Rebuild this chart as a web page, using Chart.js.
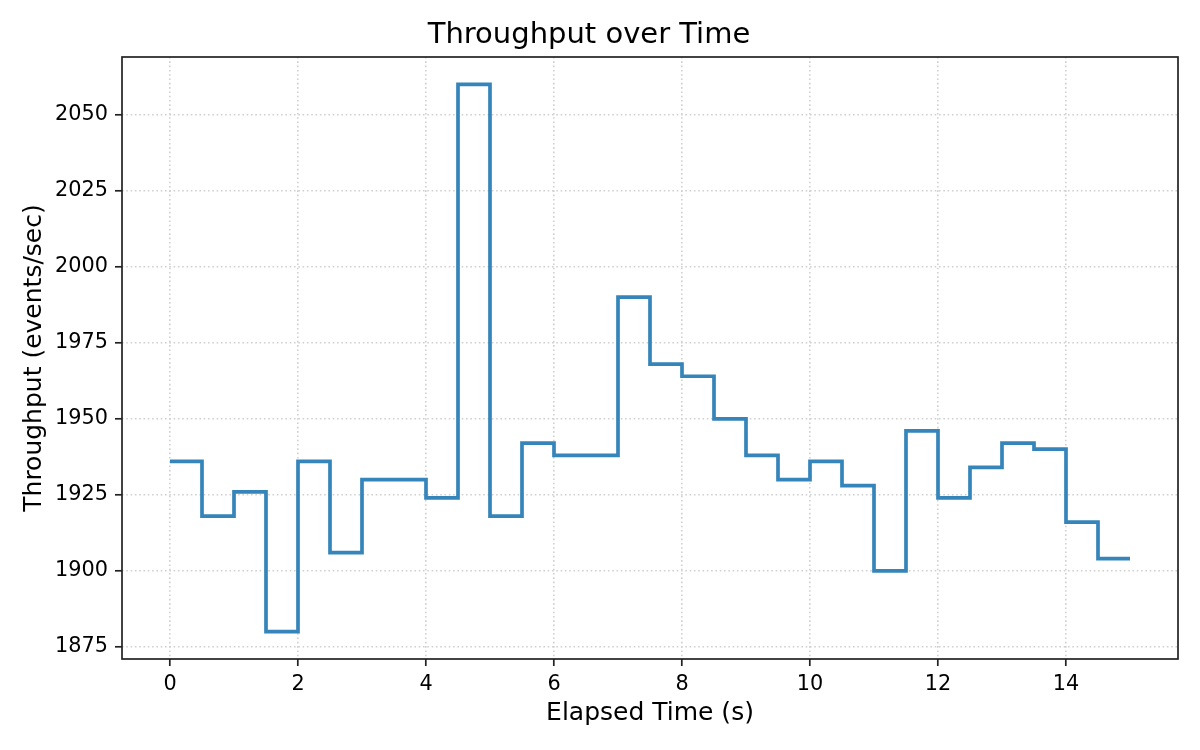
<!DOCTYPE html>
<html>
<head>
<meta charset="utf-8">
<script src="https://cdn.jsdelivr.net/npm/chart.js@4.4.0/dist/chart.umd.min.js"></script>
<style>
  html, body { margin: 0; padding: 0; background: #ffffff; }
  #wrap { width: 1200px; height: 750px; }
</style>
</head>
<body>
<div id="wrap"><canvas id="c" width="1200" height="750"></canvas></div>
<script>
// ---- data ----
const elapsedTime = [0, 0.5, 1, 1.5, 2, 2.5, 3, 3.5, 4, 4.5, 5, 5.5, 6, 6.5, 7, 7.5,
                     8, 8.5, 9, 9.5, 10, 10.5, 11, 11.5, 12, 12.5, 13, 13.5, 14, 14.5, 15];
const throughput = [1936, 1918, 1926, 1880, 1936, 1906, 1930, 1930, 1924, 2060, 1918, 1942,
                    1938, 1938, 1990, 1968, 1964, 1950, 1938, 1930, 1936, 1928, 1900, 1946,
                    1924, 1934, 1942, 1940, 1916, 1904, 1904];
const xTickValues = [0, 2, 4, 6, 8, 10, 12, 14];
const yTickValues = [1875, 1900, 1925, 1950, 1975, 2000, 2025, 2050];

const chartTitle = 'Throughput over Time';
const xLabel = 'Elapsed Time (s)';
const yLabel = 'Throughput (events/sec)';

const points = elapsedTime.map((t, i) => ({ x: t, y: throughput[i] }));

const FONT = "'DejaVu Sans', 'Liberation Sans', sans-serif";
const GRID_COLOR = '#d0d0d0';
const SPINE_COLOR = '#222222';

const framePlugin = {
  id: 'frame',
  afterDatasetsDraw(chart) {
    const { ctx, chartArea: a } = chart;
    ctx.save();
    ctx.strokeStyle = SPINE_COLOR;
    ctx.lineWidth = 1.7;
    ctx.setLineDash([]);
    ctx.strokeRect(a.left, a.top, a.right - a.left, a.bottom - a.top);
    ctx.restore();
  }
};

new Chart(document.getElementById('c'), {
  type: 'line',
  data: {
    datasets: [{
      data: points,
      stepped: true,
      borderColor: '#3585bb',
      borderWidth: 3.7,
      pointRadius: 0,
      fill: false,
      tension: 0,
      borderJoinStyle: 'miter',
      borderCapStyle: 'butt'
    }]
  },
  options: {
    responsive: false,
    devicePixelRatio: 1,
    animation: false,
    layout: { padding: { top: 0, right: 22, bottom: 0, left: 0 } },
    plugins: {
      legend: { display: false },
      tooltip: { enabled: false },
      title: {
        display: true,
        text: chartTitle,
        color: '#000000',
        font: { family: FONT, size: 29, weight: 'normal', lineHeight: 1.2 },
        padding: { top: 18.5, bottom: 3.7 }
      }
    },
    scales: {
      x: {
        type: 'linear',
        min: -0.75,
        max: 15.75,
        afterBuildTicks(scale) { scale.ticks = xTickValues.map(v => ({ value: v })); },
        afterFit(scale) { scale.height = 91; },
        ticks: {
          color: '#000000',
          font: { family: FONT, size: 20.8 },
          padding: 6,
          maxRotation: 0,
          autoSkip: false,
          callback: v => String(v)
        },
        grid: {
          color: GRID_COLOR,
          lineWidth: 1.6,
          drawTicks: true,
          tickLength: 7,
          tickColor: SPINE_COLOR,
          tickWidth: 1.7,
          tickBorderDash: []
        },
        border: { display: false, dash: [1.6, 2.7] },
        title: {
          display: true,
          text: xLabel,
          color: '#000000',
          font: { family: FONT, size: 25, lineHeight: 1.2 },
          padding: { top: 0, bottom: 22 }
        }
      },
      y: {
        type: 'linear',
        min: 1871,
        max: 2069,
        afterBuildTicks(scale) { scale.ticks = yTickValues.map(v => ({ value: v })); },
        afterFit(scale) { scale.width = 122; },
        ticks: {
          color: '#000000',
          font: { family: FONT, size: 20.8 },
          padding: 7,
          autoSkip: false,
          callback: v => String(v)
        },
        grid: {
          color: GRID_COLOR,
          lineWidth: 1.6,
          drawTicks: true,
          tickLength: 7,
          tickColor: SPINE_COLOR,
          tickWidth: 1.7,
          tickBorderDash: []
        },
        border: { display: false, dash: [1.6, 2.7] },
        title: {
          display: true,
          text: yLabel,
          color: '#000000',
          font: { family: FONT, size: 25, lineHeight: 1.2 },
          padding: { top: 19, bottom: 0 }
        }
      }
    }
  },
  plugins: [framePlugin]
});
</script>
</body>
</html>
